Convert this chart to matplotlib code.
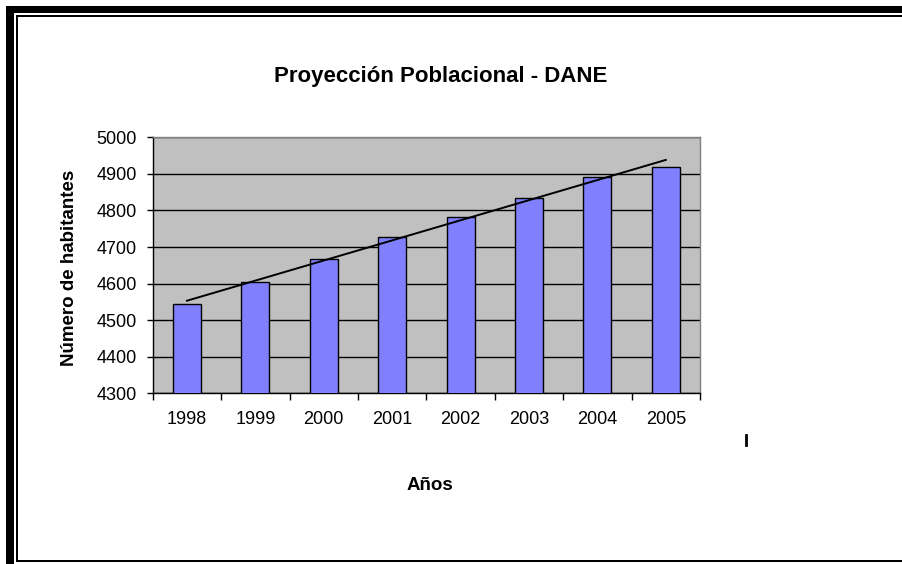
"""Proyección Poblacional - DANE: bar chart with linear trend line."""

import numpy as np
import matplotlib
matplotlib.use("Agg")
import matplotlib.pyplot as plt
from matplotlib.patches import Rectangle
from matplotlib.lines import Line2D

plt.rcParams["font.family"] = ["Liberation Sans", "DejaVu Sans"]

# ── data ──────────────────────────────────────────────────────────────────
years = ["1998", "1999", "2000", "2001", "2002", "2003", "2004", "2005"]
habitantes = [4543, 4604, 4666, 4728, 4781, 4833, 4891, 4919]
y_ticks = [4300, 4400, 4500, 4600, 4700, 4800, 4900, 5000]

W, H = 902, 564


def main():
    fig = plt.figure(figsize=(W / 100, H / 100), dpi=100)
    fig.patch.set_facecolor("white")

    ax = fig.add_axes([152.7 / W, 1 - 393.3 / H, (700 - 152.7) / W, (393.3 - 137.3) / H])
    ax.set_facecolor("#C0C0C0")

    x = np.arange(len(years))
    ax.bar(x, habitantes, width=0.41, color="#8080FF", edgecolor="black",
           linewidth=1.0, zorder=3)

    # linear trend line over the bars
    slope, intercept = np.polyfit(x, habitantes, 1)
    ax.plot(x, slope * x + intercept, color="black", lw=1.4, zorder=4)

    ax.set_xlim(-0.5, len(years) - 0.5)
    ax.set_ylim(4300, 5000)
    ax.set_yticks(y_ticks)
    ax.set_xticks(x)
    ax.set_xticklabels(years)
    ax.set_xticks(np.arange(-0.5, len(years)), minor=True)
    ax.tick_params(axis="x", which="major", length=0, pad=13, labelsize=13)
    ax.tick_params(axis="x", which="minor", length=5, width=1, direction="out")
    ax.tick_params(axis="y", length=4, width=1, direction="out", pad=7.5, labelsize=13)

    ax.grid(axis="y", color="black", lw=1, zorder=1)
    ax.set_axisbelow(True)
    for side in ["top", "right"]:
        ax.spines[side].set_color("#808080")
    for side in ["left", "bottom"]:
        ax.spines[side].set_color("black")
    for sp in ax.spines.values():
        sp.set_linewidth(1)

    fig.text(441 / W, 1 - 82.3 / H, "Proyección Poblacional - DANE",
             ha="center", va="baseline", fontsize=16, fontweight="bold")
    fig.text(70 / W, 1 - 268 / H, "Número de habitantes", rotation=90,
             ha="center", va="center", fontsize=13.5, fontweight="bold")
    fig.text(430 / W, 1 - 490 / H, "Años",
             ha="center", va="baseline", fontsize=13.5, fontweight="bold")

    # stray mark below the chart area
    fig.add_artist(Line2D([745.5 / W, 745.5 / W], [1 - 435 / H, 1 - 445 / H],
                          transform=fig.transFigure, color="black", lw=2))

    # outer frame (thick + thin double border, open on the right)
    def box(x0, y0, x1, y1):
        fig.add_artist(Rectangle((x0 / W, 1 - y1 / H), (x1 - x0) / W, (y1 - y0) / H,
                                 transform=fig.transFigure, color="black", lw=0))

    box(6, 6, 14, H)
    box(6, 6, W, 13)
    box(15.5, 15, 17.5, 562)
    box(15.5, 15, W, 17)
    box(15.5, 560, W, 562)

    fig.savefig("out.png", dpi=100, facecolor="white")
    plt.close(fig)


if __name__ == "__main__":
    main()
